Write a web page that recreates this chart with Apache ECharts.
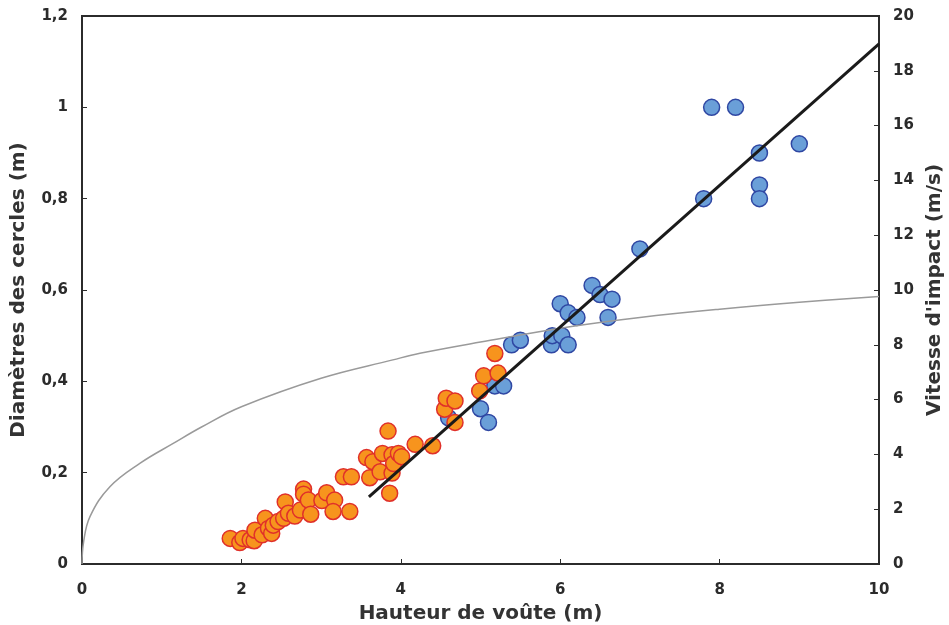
<!DOCTYPE html>
<html>
<head>
<meta charset="utf-8">
<script src="https://cdn.jsdelivr.net/npm/echarts@6/dist/echarts.min.js"></script>
<style>
  html, body { margin: 0; padding: 0; background: #fff; }
  #chart { width: 949px; height: 625px; }
</style>
</head>
<body>
<div id="chart"></div>
<script>
// points bleus : [hauteur, diametre]
const bluePoints = [
  [4.60, 0.32], [5.00, 0.34], [5.10, 0.31], [5.18, 0.39], [5.29, 0.39],
  [5.39, 0.48], [5.50, 0.49], [5.89, 0.48], [5.90, 0.50], [6.02, 0.50],
  [6.10, 0.48], [6.00, 0.57], [6.10, 0.55], [6.21, 0.54], [6.40, 0.61],
  [6.50, 0.59], [6.65, 0.58], [6.60, 0.54], [7.00, 0.69], [7.80, 0.80],
  [7.90, 1.00], [8.20, 1.00], [8.50, 0.90], [8.50, 0.83], [8.50, 0.80],
  [9.00, 0.92]
];
// points orange : [hauteur, diametre]
const orangePoints = [
  [1.86, 0.056], [1.98, 0.047], [2.02, 0.056], [2.11, 0.053], [2.16, 0.051],
  [2.17, 0.074], [2.26, 0.064], [2.30, 0.100], [2.34, 0.078], [2.38, 0.067],
  [2.40, 0.085], [2.46, 0.093], [2.53, 0.100], [2.55, 0.136], [2.59, 0.111],
  [2.67, 0.105], [2.74, 0.118], [2.78, 0.164], [2.78, 0.153], [2.84, 0.140],
  [2.87, 0.109], [3.01, 0.139], [3.07, 0.156], [3.17, 0.140], [3.15, 0.115],
  [3.36, 0.115], [3.28, 0.191], [3.38, 0.191], [3.61, 0.189], [3.57, 0.233],
  [3.65, 0.224], [3.74, 0.202], [3.77, 0.242], [3.84, 0.291], [3.86, 0.155],
  [3.89, 0.199], [3.89, 0.239], [3.91, 0.220], [3.97, 0.242], [4.01, 0.235],
  [4.18, 0.262], [4.40, 0.259], [4.55, 0.339], [4.57, 0.363], [4.68, 0.357],
  [4.68, 0.310], [4.99, 0.379], [5.04, 0.412], [5.22, 0.418], [5.18, 0.461]
];
// droite de regression
const fitLine = [[3.6, 0.147], [10, 1.139]];
// vitesse d'impact (axe droit) : [hauteur, vitesse]
const speedCurve = [
  [0, 0], [0.02, 0.8], [0.1, 1.73], [0.35, 2.82], [0.73, 3.68], [1.15, 4.41],
  [1.5, 5.0], [2, 5.74], [3, 6.78], [3.9, 7.45], [4.24, 7.69], [5, 8.1],
  [6.12, 8.66], [7, 9.0], [8, 9.3], [9, 9.55], [10, 9.76]
];

const font = 'DejaVu Sans';
const axisColor = '#2b2b2b';
const titleStyle = { fontFamily: font, fontWeight: 'bold', fontSize: 20, color: '#333' };
const labelStyle = { fontFamily: font, fontWeight: 'bold', fontSize: 15, color: '#2b2b2b' };

const chart = echarts.init(document.getElementById('chart'));
chart.setOption({
  animation: false,
  backgroundColor: '#fff',
  grid: {
    left: 82, right: 70, top: 16, bottom: 61,
    outerBoundsMode: 'none', containLabel: false,
    show: true, borderColor: axisColor, borderWidth: 2
  },
  xAxis: {
    type: 'value', min: 0, max: 10, interval: 2,
    name: 'Hauteur de voûte (m)', nameLocation: 'middle', nameGap: 40,
    nameTextStyle: titleStyle,
    axisLine: { lineStyle: { color: axisColor, width: 2 } },
    axisTick: { inside: true, length: 5, lineStyle: { color: axisColor } },
    axisLabel: Object.assign({ margin: 19 }, labelStyle),
    splitLine: { show: false }
  },
  yAxis: [
    {
      type: 'value', min: 0, max: 1.2, interval: 0.2, position: 'left',
      name: 'Diamètres des cercles (m)', nameLocation: 'middle', nameGap: 53, nameRotate: 90,
      nameTextStyle: titleStyle,
      axisLine: { show: true, lineStyle: { color: axisColor, width: 2 } },
      axisTick: { show: true, inside: true, length: 5, lineStyle: { color: axisColor } },
      axisLabel: Object.assign({
        margin: 14,
        formatter: v => String(+v.toFixed(1)).replace('.', ',')
      }, labelStyle),
      splitLine: { show: false }
    },
    {
      type: 'value', min: 0, max: 20, interval: 2, position: 'right',
      name: "Vitesse d'impact (m/s)", nameLocation: 'middle', nameGap: 46, nameRotate: 90,
      nameTextStyle: titleStyle,
      axisLine: { show: true, lineStyle: { color: axisColor, width: 2 } },
      axisTick: { show: true, inside: true, length: 5, lineStyle: { color: axisColor } },
      axisLabel: Object.assign({ margin: 14 }, labelStyle),
      splitLine: { show: false }
    }
  ],
  series: [
    {
      type: 'scatter', data: bluePoints, symbolSize: 16, z: 2,
      itemStyle: { color: '#6a9fd8', borderColor: '#2f47a3', borderWidth: 1.5, opacity: 1 }
    },
    {
      type: 'scatter', data: orangePoints, symbolSize: 16, z: 3,
      itemStyle: { color: '#f7941d', borderColor: '#e0302a', borderWidth: 1.5, opacity: 1 }
    },
    {
      type: 'line', data: speedCurve, yAxisIndex: 1, smooth: 0.4, showSymbol: false, z: 4,
      lineStyle: { color: '#9a9a9a', width: 1.5 }
    },
    {
      type: 'line', data: fitLine, showSymbol: false, z: 5,
      lineStyle: { color: '#1a1a1a', width: 3 }
    }
  ]
});
</script>
</body>
</html>
